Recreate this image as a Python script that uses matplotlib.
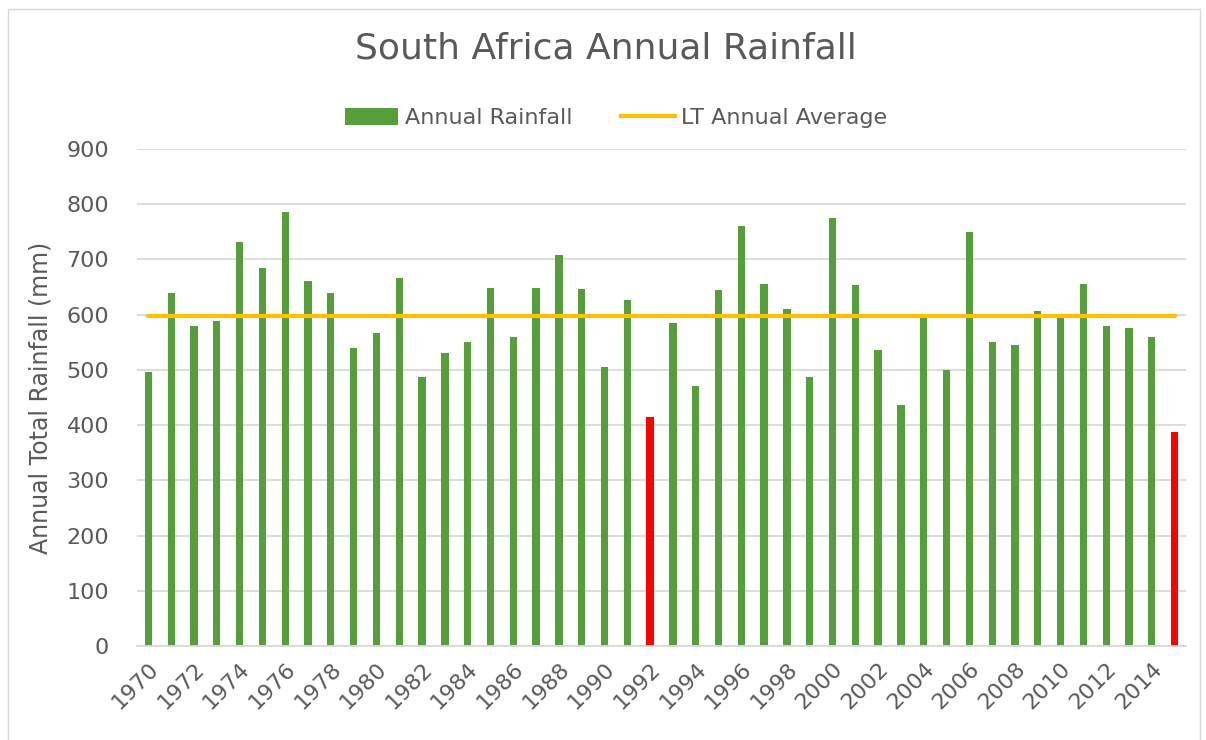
import matplotlib.pyplot as plt
from matplotlib.patches import Rectangle, Patch
from matplotlib.lines import Line2D

# values (mm)
years = list(range(1970, 2016))
rainfall = [497, 640, 579, 588, 731, 684, 786, 661, 640, 539,
            567, 666, 488, 531, 550, 649, 560, 648, 708, 646,
            505, 626, 415, 585, 471, 645, 760, 656, 610, 488,
            775, 653, 536, 436, 594, 499, 750, 551, 545, 607,
            595, 656, 580, 575, 559, 388]
lt_average = 597
drought_years = [1992, 2015]

GREEN = '#559F3B'
RED = '#FF0000'
GOLD = '#FFC000'
GREY_TXT = '#595959'
GRID = '#D9D9D9'

plt.rcParams['font.family'] = ['DejaVu Sans']

fig = plt.figure(figsize=(12.06, 7.4), dpi=100)
# light frame round the chart like the excel chart area
fig.patches.append(Rectangle((8 / 1206, -0.1), 1192 / 1206, 1.1 - 9 / 740,
                             transform=fig.transFigure, fill=False,
                             edgecolor='#D9D9D9', linewidth=1))

ax = fig.add_axes([137 / 1206, 94 / 740, 1049 / 1206, 497 / 740])

x = list(range(len(years)))
colors = [RED if y in drought_years else GREEN for y in years]
ax.bar(x, rainfall, width=0.32, color=colors, zorder=2)
ax.plot([x[0], x[-1]], [lt_average, lt_average], color=GOLD, linewidth=3,
        solid_capstyle='round', zorder=3)

ax.set_xlim(-0.5, len(years) - 0.5)
ax.set_ylim(0, 900)
ax.set_yticks(range(0, 901, 100))
ax.yaxis.grid(True, color=GRID, linewidth=1.3, zorder=0)
ax.set_axisbelow(True)
for s in ['top', 'right', 'left']:
    ax.spines[s].set_visible(False)
ax.spines['bottom'].set_color(GRID)
ax.spines['bottom'].set_linewidth(1.3)
ax.tick_params(axis='both', length=0, colors=GREY_TXT, labelsize=16)
ax.tick_params(axis='y', pad=20)

ticks = x[::2]
ax.set_xticks(ticks)
ax.set_xticklabels([str(years[i]) for i in ticks], rotation=45, ha='right',
                   rotation_mode='anchor')
ax.tick_params(axis='x', pad=9)

ax.set_ylabel('Annual Total Rainfall (mm)', color=GREY_TXT, fontsize=17, labelpad=10)

fig.text(0.502, 0.935, 'South Africa Annual Rainfall', ha='center', va='center',
         color=GREY_TXT, fontsize=26)

handles = [Patch(facecolor=GREEN, edgecolor='none'),
           Line2D([0], [0], color=GOLD, linewidth=3)]
fig.legend(handles, ['Annual Rainfall', 'LT Annual Average'], loc='center',
           bbox_to_anchor=(0.511, 0.841), ncol=2, frameon=False, fontsize=16,
           labelcolor=GREY_TXT, handlelength=2.4, handleheight=0.8,
           columnspacing=2.2, handletextpad=0.3)

fig.savefig('out.png', dpi=100, facecolor='white')
